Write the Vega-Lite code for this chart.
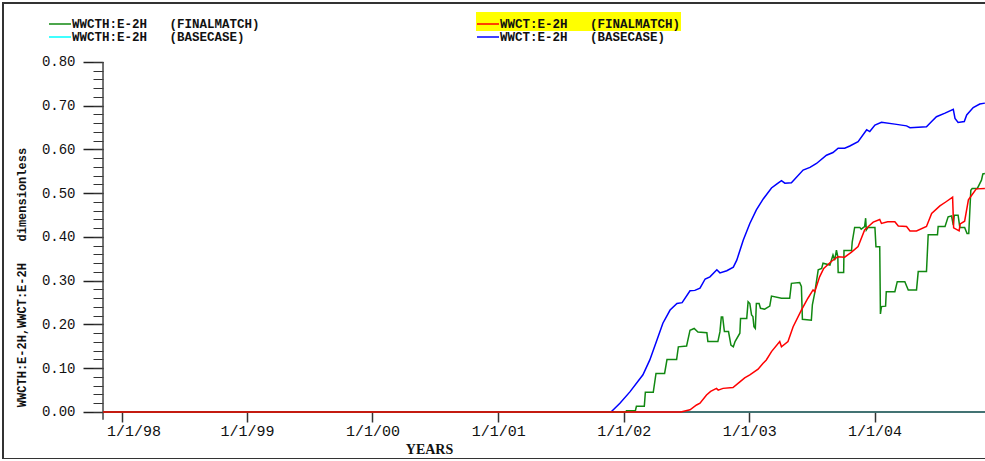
{
  "$schema": "https://vega.github.io/schema/vega-lite/v6.json",
  "autosize": "none",
  "width": 985,
  "height": 456,
  "padding": {"left": 3, "top": 3, "right": 0, "bottom": 0},
  "background": "white",
  "datasets": {
    "rows": [
      {"series": "WWCTH:E-2H (BASECASE)", "date": "1997-11-08", "value": 0},
      {"series": "WWCTH:E-2H (BASECASE)", "date": "2004-11-17", "value": 0},

      {"series": "WWCT:E-2H (BASECASE)", "date": "1997-11-08", "value": 0},
      {"series": "WWCT:E-2H (BASECASE)", "date": "2001-11-25", "value": 0},
      {"series": "WWCT:E-2H (BASECASE)", "date": "2001-12-21", "value": 0.020},
      {"series": "WWCT:E-2H (BASECASE)", "date": "2002-01-19", "value": 0.046},
      {"series": "WWCT:E-2H (BASECASE)", "date": "2002-02-26", "value": 0.085},
      {"series": "WWCT:E-2H (BASECASE)", "date": "2002-03-18", "value": 0.119},
      {"series": "WWCT:E-2H (BASECASE)", "date": "2002-04-08", "value": 0.165},
      {"series": "WWCT:E-2H (BASECASE)", "date": "2002-04-25", "value": 0.203},
      {"series": "WWCT:E-2H (BASECASE)", "date": "2002-05-16", "value": 0.233},
      {"series": "WWCT:E-2H (BASECASE)", "date": "2002-06-05", "value": 0.248},
      {"series": "WWCT:E-2H (BASECASE)", "date": "2002-06-20", "value": 0.250},
      {"series": "WWCT:E-2H (BASECASE)", "date": "2002-07-13", "value": 0.277},
      {"series": "WWCT:E-2H (BASECASE)", "date": "2002-07-27", "value": 0.278},
      {"series": "WWCT:E-2H (BASECASE)", "date": "2002-08-11", "value": 0.283},
      {"series": "WWCT:E-2H (BASECASE)", "date": "2002-08-26", "value": 0.304},
      {"series": "WWCT:E-2H (BASECASE)", "date": "2002-09-09", "value": 0.309},
      {"series": "WWCT:E-2H (BASECASE)", "date": "2002-09-29", "value": 0.325},
      {"series": "WWCT:E-2H (BASECASE)", "date": "2002-10-08", "value": 0.318},
      {"series": "WWCT:E-2H (BASECASE)", "date": "2002-10-28", "value": 0.323},
      {"series": "WWCT:E-2H (BASECASE)", "date": "2002-11-16", "value": 0.331},
      {"series": "WWCT:E-2H (BASECASE)", "date": "2002-11-26", "value": 0.347},
      {"series": "WWCT:E-2H (BASECASE)", "date": "2002-12-15", "value": 0.393},
      {"series": "WWCT:E-2H (BASECASE)", "date": "2003-01-03", "value": 0.431},
      {"series": "WWCT:E-2H (BASECASE)", "date": "2003-01-22", "value": 0.462},
      {"series": "WWCT:E-2H (BASECASE)", "date": "2003-02-11", "value": 0.487},
      {"series": "WWCT:E-2H (BASECASE)", "date": "2003-03-07", "value": 0.512},
      {"series": "WWCT:E-2H (BASECASE)", "date": "2003-03-22", "value": 0.521},
      {"series": "WWCT:E-2H (BASECASE)", "date": "2003-04-05", "value": 0.529},
      {"series": "WWCT:E-2H (BASECASE)", "date": "2003-04-15", "value": 0.523},
      {"series": "WWCT:E-2H (BASECASE)", "date": "2003-05-04", "value": 0.524},
      {"series": "WWCT:E-2H (BASECASE)", "date": "2003-06-07", "value": 0.553},
      {"series": "WWCT:E-2H (BASECASE)", "date": "2003-06-27", "value": 0.559},
      {"series": "WWCT:E-2H (BASECASE)", "date": "2003-07-16", "value": 0.568},
      {"series": "WWCT:E-2H (BASECASE)", "date": "2003-08-14", "value": 0.587},
      {"series": "WWCT:E-2H (BASECASE)", "date": "2003-09-02", "value": 0.593},
      {"series": "WWCT:E-2H (BASECASE)", "date": "2003-09-17", "value": 0.603},
      {"series": "WWCT:E-2H (BASECASE)", "date": "2003-10-06", "value": 0.603},
      {"series": "WWCT:E-2H (BASECASE)", "date": "2003-10-21", "value": 0.608},
      {"series": "WWCT:E-2H (BASECASE)", "date": "2003-11-14", "value": 0.618},
      {"series": "WWCT:E-2H (BASECASE)", "date": "2003-12-09", "value": 0.645},
      {"series": "WWCT:E-2H (BASECASE)", "date": "2003-12-18", "value": 0.641},
      {"series": "WWCT:E-2H (BASECASE)", "date": "2004-01-02", "value": 0.656},
      {"series": "WWCT:E-2H (BASECASE)", "date": "2004-01-21", "value": 0.662},
      {"series": "WWCT:E-2H (BASECASE)", "date": "2004-02-29", "value": 0.658},
      {"series": "WWCT:E-2H (BASECASE)", "date": "2004-04-03", "value": 0.654},
      {"series": "WWCT:E-2H (BASECASE)", "date": "2004-04-13", "value": 0.650},
      {"series": "WWCT:E-2H (BASECASE)", "date": "2004-05-31", "value": 0.652},
      {"series": "WWCT:E-2H (BASECASE)", "date": "2004-06-15", "value": 0.664},
      {"series": "WWCT:E-2H (BASECASE)", "date": "2004-06-29", "value": 0.675},
      {"series": "WWCT:E-2H (BASECASE)", "date": "2004-07-24", "value": 0.683},
      {"series": "WWCT:E-2H (BASECASE)", "date": "2004-08-17", "value": 0.692},
      {"series": "WWCT:E-2H (BASECASE)", "date": "2004-08-22", "value": 0.671},
      {"series": "WWCT:E-2H (BASECASE)", "date": "2004-08-31", "value": 0.662},
      {"series": "WWCT:E-2H (BASECASE)", "date": "2004-09-18", "value": 0.664},
      {"series": "WWCT:E-2H (BASECASE)", "date": "2004-09-25", "value": 0.679},
      {"series": "WWCT:E-2H (BASECASE)", "date": "2004-10-14", "value": 0.696},
      {"series": "WWCT:E-2H (BASECASE)", "date": "2004-11-02", "value": 0.704},
      {"series": "WWCT:E-2H (BASECASE)", "date": "2004-11-17", "value": 0.706},

      {"series": "WWCTH:E-2H (FINALMATCH)", "date": "1997-11-08", "value": 0},
      {"series": "WWCTH:E-2H (FINALMATCH)", "date": "2002-01-08", "value": 0},
      {"series": "WWCTH:E-2H (FINALMATCH)", "date": "2002-01-09", "value": 0.003},
      {"series": "WWCTH:E-2H (FINALMATCH)", "date": "2002-02-04", "value": 0.003},
      {"series": "WWCTH:E-2H (FINALMATCH)", "date": "2002-02-07", "value": 0.013},
      {"series": "WWCTH:E-2H (FINALMATCH)", "date": "2002-03-02", "value": 0.013},
      {"series": "WWCTH:E-2H (FINALMATCH)", "date": "2002-03-05", "value": 0.045},
      {"series": "WWCTH:E-2H (FINALMATCH)", "date": "2002-03-28", "value": 0.045},
      {"series": "WWCTH:E-2H (FINALMATCH)", "date": "2002-04-05", "value": 0.088},
      {"series": "WWCTH:E-2H (FINALMATCH)", "date": "2002-04-30", "value": 0.088},
      {"series": "WWCTH:E-2H (FINALMATCH)", "date": "2002-05-07", "value": 0.120},
      {"series": "WWCTH:E-2H (FINALMATCH)", "date": "2002-06-04", "value": 0.120},
      {"series": "WWCTH:E-2H (FINALMATCH)", "date": "2002-06-09", "value": 0.149},
      {"series": "WWCTH:E-2H (FINALMATCH)", "date": "2002-07-03", "value": 0.151},
      {"series": "WWCTH:E-2H (FINALMATCH)", "date": "2002-07-13", "value": 0.187},
      {"series": "WWCTH:E-2H (FINALMATCH)", "date": "2002-07-25", "value": 0.191},
      {"series": "WWCTH:E-2H (FINALMATCH)", "date": "2002-08-05", "value": 0.183},
      {"series": "WWCTH:E-2H (FINALMATCH)", "date": "2002-08-31", "value": 0.181},
      {"series": "WWCTH:E-2H (FINALMATCH)", "date": "2002-09-03", "value": 0.161},
      {"series": "WWCTH:E-2H (FINALMATCH)", "date": "2002-10-02", "value": 0.161},
      {"series": "WWCTH:E-2H (FINALMATCH)", "date": "2002-10-08", "value": 0.183},
      {"series": "WWCTH:E-2H (FINALMATCH)", "date": "2002-10-12", "value": 0.217},
      {"series": "WWCTH:E-2H (FINALMATCH)", "date": "2002-10-16", "value": 0.217},
      {"series": "WWCTH:E-2H (FINALMATCH)", "date": "2002-10-21", "value": 0.184},
      {"series": "WWCTH:E-2H (FINALMATCH)", "date": "2002-11-02", "value": 0.184},
      {"series": "WWCTH:E-2H (FINALMATCH)", "date": "2002-11-09", "value": 0.153},
      {"series": "WWCTH:E-2H (FINALMATCH)", "date": "2002-11-16", "value": 0.149},
      {"series": "WWCTH:E-2H (FINALMATCH)", "date": "2002-11-21", "value": 0.161},
      {"series": "WWCTH:E-2H (FINALMATCH)", "date": "2002-12-05", "value": 0.180},
      {"series": "WWCTH:E-2H (FINALMATCH)", "date": "2002-12-07", "value": 0.214},
      {"series": "WWCTH:E-2H (FINALMATCH)", "date": "2002-12-25", "value": 0.214},
      {"series": "WWCTH:E-2H (FINALMATCH)", "date": "2002-12-29", "value": 0.252},
      {"series": "WWCTH:E-2H (FINALMATCH)", "date": "2003-01-03", "value": 0.248},
      {"series": "WWCTH:E-2H (FINALMATCH)", "date": "2003-01-08", "value": 0.222},
      {"series": "WWCTH:E-2H (FINALMATCH)", "date": "2003-01-12", "value": 0.218},
      {"series": "WWCTH:E-2H (FINALMATCH)", "date": "2003-01-15", "value": 0.195},
      {"series": "WWCTH:E-2H (FINALMATCH)", "date": "2003-01-19", "value": 0.191},
      {"series": "WWCTH:E-2H (FINALMATCH)", "date": "2003-01-22", "value": 0.248},
      {"series": "WWCTH:E-2H (FINALMATCH)", "date": "2003-01-30", "value": 0.248},
      {"series": "WWCTH:E-2H (FINALMATCH)", "date": "2003-02-03", "value": 0.237},
      {"series": "WWCTH:E-2H (FINALMATCH)", "date": "2003-02-15", "value": 0.235},
      {"series": "WWCTH:E-2H (FINALMATCH)", "date": "2003-03-02", "value": 0.242},
      {"series": "WWCTH:E-2H (FINALMATCH)", "date": "2003-03-07", "value": 0.265},
      {"series": "WWCTH:E-2H (FINALMATCH)", "date": "2003-04-05", "value": 0.260},
      {"series": "WWCTH:E-2H (FINALMATCH)", "date": "2003-04-29", "value": 0.260},
      {"series": "WWCTH:E-2H (FINALMATCH)", "date": "2003-05-04", "value": 0.294},
      {"series": "WWCTH:E-2H (FINALMATCH)", "date": "2003-05-28", "value": 0.296},
      {"series": "WWCTH:E-2H (FINALMATCH)", "date": "2003-06-02", "value": 0.287},
      {"series": "WWCTH:E-2H (FINALMATCH)", "date": "2003-06-05", "value": 0.212},
      {"series": "WWCTH:E-2H (FINALMATCH)", "date": "2003-07-01", "value": 0.210},
      {"series": "WWCTH:E-2H (FINALMATCH)", "date": "2003-07-04", "value": 0.245},
      {"series": "WWCTH:E-2H (FINALMATCH)", "date": "2003-07-11", "value": 0.273},
      {"series": "WWCTH:E-2H (FINALMATCH)", "date": "2003-07-21", "value": 0.325},
      {"series": "WWCTH:E-2H (FINALMATCH)", "date": "2003-07-31", "value": 0.328},
      {"series": "WWCTH:E-2H (FINALMATCH)", "date": "2003-08-04", "value": 0.340},
      {"series": "WWCTH:E-2H (FINALMATCH)", "date": "2003-08-24", "value": 0.336},
      {"series": "WWCTH:E-2H (FINALMATCH)", "date": "2003-09-02", "value": 0.359},
      {"series": "WWCTH:E-2H (FINALMATCH)", "date": "2003-09-07", "value": 0.347},
      {"series": "WWCTH:E-2H (FINALMATCH)", "date": "2003-09-12", "value": 0.370},
      {"series": "WWCTH:E-2H (FINALMATCH)", "date": "2003-09-16", "value": 0.355},
      {"series": "WWCTH:E-2H (FINALMATCH)", "date": "2003-09-17", "value": 0.319},
      {"series": "WWCTH:E-2H (FINALMATCH)", "date": "2003-10-03", "value": 0.319},
      {"series": "WWCTH:E-2H (FINALMATCH)", "date": "2003-10-04", "value": 0.369},
      {"series": "WWCTH:E-2H (FINALMATCH)", "date": "2003-10-26", "value": 0.369},
      {"series": "WWCTH:E-2H (FINALMATCH)", "date": "2003-10-28", "value": 0.389},
      {"series": "WWCTH:E-2H (FINALMATCH)", "date": "2003-11-04", "value": 0.422},
      {"series": "WWCTH:E-2H (FINALMATCH)", "date": "2003-11-19", "value": 0.422},
      {"series": "WWCTH:E-2H (FINALMATCH)", "date": "2003-11-23", "value": 0.418},
      {"series": "WWCTH:E-2H (FINALMATCH)", "date": "2003-12-03", "value": 0.424},
      {"series": "WWCTH:E-2H (FINALMATCH)", "date": "2003-12-06", "value": 0.443},
      {"series": "WWCTH:E-2H (FINALMATCH)", "date": "2003-12-08", "value": 0.416},
      {"series": "WWCTH:E-2H (FINALMATCH)", "date": "2003-12-13", "value": 0.422},
      {"series": "WWCTH:E-2H (FINALMATCH)", "date": "2004-01-02", "value": 0.422},
      {"series": "WWCTH:E-2H (FINALMATCH)", "date": "2004-01-05", "value": 0.378},
      {"series": "WWCTH:E-2H (FINALMATCH)", "date": "2004-01-16", "value": 0.378},
      {"series": "WWCTH:E-2H (FINALMATCH)", "date": "2004-01-18", "value": 0.224},
      {"series": "WWCTH:E-2H (FINALMATCH)", "date": "2004-01-21", "value": 0.241},
      {"series": "WWCTH:E-2H (FINALMATCH)", "date": "2004-02-02", "value": 0.242},
      {"series": "WWCTH:E-2H (FINALMATCH)", "date": "2004-02-04", "value": 0.275},
      {"series": "WWCTH:E-2H (FINALMATCH)", "date": "2004-02-29", "value": 0.275},
      {"series": "WWCTH:E-2H (FINALMATCH)", "date": "2004-03-07", "value": 0.298},
      {"series": "WWCTH:E-2H (FINALMATCH)", "date": "2004-03-29", "value": 0.298},
      {"series": "WWCTH:E-2H (FINALMATCH)", "date": "2004-04-08", "value": 0.279},
      {"series": "WWCTH:E-2H (FINALMATCH)", "date": "2004-05-02", "value": 0.279},
      {"series": "WWCTH:E-2H (FINALMATCH)", "date": "2004-05-07", "value": 0.321},
      {"series": "WWCTH:E-2H (FINALMATCH)", "date": "2004-05-31", "value": 0.321},
      {"series": "WWCTH:E-2H (FINALMATCH)", "date": "2004-06-05", "value": 0.405},
      {"series": "WWCTH:E-2H (FINALMATCH)", "date": "2004-07-02", "value": 0.405},
      {"series": "WWCTH:E-2H (FINALMATCH)", "date": "2004-07-04", "value": 0.424},
      {"series": "WWCTH:E-2H (FINALMATCH)", "date": "2004-07-24", "value": 0.424},
      {"series": "WWCTH:E-2H (FINALMATCH)", "date": "2004-08-02", "value": 0.446},
      {"series": "WWCTH:E-2H (FINALMATCH)", "date": "2004-08-12", "value": 0.448},
      {"series": "WWCTH:E-2H (FINALMATCH)", "date": "2004-08-17", "value": 0.427},
      {"series": "WWCTH:E-2H (FINALMATCH)", "date": "2004-08-20", "value": 0.450},
      {"series": "WWCTH:E-2H (FINALMATCH)", "date": "2004-08-31", "value": 0.450},
      {"series": "WWCTH:E-2H (FINALMATCH)", "date": "2004-09-05", "value": 0.422},
      {"series": "WWCTH:E-2H (FINALMATCH)", "date": "2004-09-19", "value": 0.422},
      {"series": "WWCTH:E-2H (FINALMATCH)", "date": "2004-09-26", "value": 0.408},
      {"series": "WWCTH:E-2H (FINALMATCH)", "date": "2004-10-01", "value": 0.408},
      {"series": "WWCTH:E-2H (FINALMATCH)", "date": "2004-10-07", "value": 0.507},
      {"series": "WWCTH:E-2H (FINALMATCH)", "date": "2004-10-11", "value": 0.511},
      {"series": "WWCTH:E-2H (FINALMATCH)", "date": "2004-10-26", "value": 0.511},
      {"series": "WWCTH:E-2H (FINALMATCH)", "date": "2004-11-07", "value": 0.530},
      {"series": "WWCTH:E-2H (FINALMATCH)", "date": "2004-11-11", "value": 0.544},
      {"series": "WWCTH:E-2H (FINALMATCH)", "date": "2004-11-17", "value": 0.545},

      {"series": "WWCT:E-2H (FINALMATCH)", "date": "1997-11-08", "value": 0},
      {"series": "WWCT:E-2H (FINALMATCH)", "date": "2002-06-16", "value": 0},
      {"series": "WWCT:E-2H (FINALMATCH)", "date": "2002-07-13", "value": 0.005},
      {"series": "WWCT:E-2H (FINALMATCH)", "date": "2002-08-01", "value": 0.016},
      {"series": "WWCT:E-2H (FINALMATCH)", "date": "2002-08-11", "value": 0.020},
      {"series": "WWCT:E-2H (FINALMATCH)", "date": "2002-08-30", "value": 0.039},
      {"series": "WWCT:E-2H (FINALMATCH)", "date": "2002-09-11", "value": 0.047},
      {"series": "WWCT:E-2H (FINALMATCH)", "date": "2002-09-28", "value": 0.054},
      {"series": "WWCT:E-2H (FINALMATCH)", "date": "2002-10-03", "value": 0.050},
      {"series": "WWCT:E-2H (FINALMATCH)", "date": "2002-10-17", "value": 0.054},
      {"series": "WWCT:E-2H (FINALMATCH)", "date": "2002-11-15", "value": 0.056},
      {"series": "WWCT:E-2H (FINALMATCH)", "date": "2002-12-05", "value": 0.069},
      {"series": "WWCT:E-2H (FINALMATCH)", "date": "2002-12-19", "value": 0.078},
      {"series": "WWCT:E-2H (FINALMATCH)", "date": "2003-01-03", "value": 0.085},
      {"series": "WWCT:E-2H (FINALMATCH)", "date": "2003-01-27", "value": 0.098},
      {"series": "WWCT:E-2H (FINALMATCH)", "date": "2003-02-10", "value": 0.111},
      {"series": "WWCT:E-2H (FINALMATCH)", "date": "2003-02-20", "value": 0.119},
      {"series": "WWCT:E-2H (FINALMATCH)", "date": "2003-03-07", "value": 0.138},
      {"series": "WWCT:E-2H (FINALMATCH)", "date": "2003-03-31", "value": 0.161},
      {"series": "WWCT:E-2H (FINALMATCH)", "date": "2003-04-05", "value": 0.149},
      {"series": "WWCT:E-2H (FINALMATCH)", "date": "2003-04-24", "value": 0.161},
      {"series": "WWCT:E-2H (FINALMATCH)", "date": "2003-05-09", "value": 0.195},
      {"series": "WWCT:E-2H (FINALMATCH)", "date": "2003-06-02", "value": 0.233},
      {"series": "WWCT:E-2H (FINALMATCH)", "date": "2003-06-21", "value": 0.260},
      {"series": "WWCT:E-2H (FINALMATCH)", "date": "2003-07-06", "value": 0.279},
      {"series": "WWCT:E-2H (FINALMATCH)", "date": "2003-07-11", "value": 0.275},
      {"series": "WWCT:E-2H (FINALMATCH)", "date": "2003-07-25", "value": 0.309},
      {"series": "WWCT:E-2H (FINALMATCH)", "date": "2003-08-06", "value": 0.328},
      {"series": "WWCT:E-2H (FINALMATCH)", "date": "2003-08-28", "value": 0.344},
      {"series": "WWCT:E-2H (FINALMATCH)", "date": "2003-09-16", "value": 0.355},
      {"series": "WWCT:E-2H (FINALMATCH)", "date": "2003-10-06", "value": 0.354},
      {"series": "WWCT:E-2H (FINALMATCH)", "date": "2003-10-25", "value": 0.365},
      {"series": "WWCT:E-2H (FINALMATCH)", "date": "2003-11-14", "value": 0.378},
      {"series": "WWCT:E-2H (FINALMATCH)", "date": "2003-12-03", "value": 0.416},
      {"series": "WWCT:E-2H (FINALMATCH)", "date": "2003-12-18", "value": 0.427},
      {"series": "WWCT:E-2H (FINALMATCH)", "date": "2003-12-28", "value": 0.434},
      {"series": "WWCT:E-2H (FINALMATCH)", "date": "2004-01-16", "value": 0.440},
      {"series": "WWCT:E-2H (FINALMATCH)", "date": "2004-01-21", "value": 0.431},
      {"series": "WWCT:E-2H (FINALMATCH)", "date": "2004-02-08", "value": 0.435},
      {"series": "WWCT:E-2H (FINALMATCH)", "date": "2004-02-29", "value": 0.435},
      {"series": "WWCT:E-2H (FINALMATCH)", "date": "2004-03-10", "value": 0.425},
      {"series": "WWCT:E-2H (FINALMATCH)", "date": "2004-04-03", "value": 0.424},
      {"series": "WWCT:E-2H (FINALMATCH)", "date": "2004-04-13", "value": 0.414},
      {"series": "WWCT:E-2H (FINALMATCH)", "date": "2004-05-02", "value": 0.414},
      {"series": "WWCT:E-2H (FINALMATCH)", "date": "2004-05-31", "value": 0.424},
      {"series": "WWCT:E-2H (FINALMATCH)", "date": "2004-06-15", "value": 0.454},
      {"series": "WWCT:E-2H (FINALMATCH)", "date": "2004-07-09", "value": 0.471},
      {"series": "WWCT:E-2H (FINALMATCH)", "date": "2004-07-26", "value": 0.480},
      {"series": "WWCT:E-2H (FINALMATCH)", "date": "2004-08-15", "value": 0.491},
      {"series": "WWCT:E-2H (FINALMATCH)", "date": "2004-08-18", "value": 0.421},
      {"series": "WWCT:E-2H (FINALMATCH)", "date": "2004-09-03", "value": 0.414},
      {"series": "WWCT:E-2H (FINALMATCH)", "date": "2004-09-06", "value": 0.430},
      {"series": "WWCT:E-2H (FINALMATCH)", "date": "2004-09-19", "value": 0.436},
      {"series": "WWCT:E-2H (FINALMATCH)", "date": "2004-09-30", "value": 0.485},
      {"series": "WWCT:E-2H (FINALMATCH)", "date": "2004-10-10", "value": 0.496},
      {"series": "WWCT:E-2H (FINALMATCH)", "date": "2004-10-23", "value": 0.510},
      {"series": "WWCT:E-2H (FINALMATCH)", "date": "2004-11-17", "value": 0.511}
    ],
    "axislines": [
      {"line": "y", "start": "1997-11-08", "end": "1997-11-08", "low": -0.018, "high": 0.8},
      {"line": "x", "start": "1997-11-08", "end": "2004-11-26", "low": 0, "high": 0}
    ]
  },
  "data": {"name": "rows"},
  "encoding": {
    "x": {
      "field": "date",
      "type": "temporal",
      "scale": {
        "type": "utc",
        "domain": [
          {"year": 1997, "month": 1, "date": 21, "utc": true},
          {"year": 2004, "month": 11, "date": 26, "utc": true}
        ]
      },
      "axis": null
    },
    "y": {
      "field": "value",
      "type": "quantitative",
      "scale": {"domain": [-0.107429, 0.934857], "nice": false, "zero": false},
      "axis": null
    }
  },
  "layer": [
    {
      "transform": [{"filter": "datum.series === 'WWCTH:E-2H (BASECASE)'"}],
      "mark": {"type": "line", "strokeWidth": 1.5, "clip": true},
      "encoding": {
        "x": {
          "field": "date",
          "type": "temporal",
          "axis": {
            "values": [
              {"year": 1998, "month": 1, "date": 1, "utc": true},
              {"year": 1999, "month": 1, "date": 1, "utc": true},
              {"year": 2000, "month": 1, "date": 1, "utc": true},
              {"year": 2001, "month": 1, "date": 1, "utc": true},
              {"year": 2002, "month": 1, "date": 1, "utc": true},
              {"year": 2003, "month": 1, "date": 1, "utc": true},
              {"year": 2004, "month": 1, "date": 1, "utc": true}
            ],
            "format": "%-m/%-d/%y",
            "offset": -47,
            "grid": false,
            "domain": false,
            "tickColor": "#333333",
            "tickWidth": 1.5,
            "tickSize": 10,
            "labelFont": "Liberation Mono",
            "labelFontSize": 15,
            "labelColor": "#111111",
            "labelPadding": 1,
            "labelOffset": {"condition": {"test": "utcyear(datum.value) === 1998", "value": 12}, "value": 0},
            "title": "YEARS",
            "titleFont": "Liberation Serif",
            "titleFontWeight": "bold",
            "titleFontSize": 14,
            "titleColor": "#111111",
            "titleX": 426,
            "titleY": 41,
            "titleAlign": "center",
            "titleBaseline": "alphabetic"
          }
        },
        "y": {
          "field": "value",
          "type": "quantitative",
          "axis": {
            "orient": "left",
            "offset": -100,
            "values": [0, 0.1, 0.2, 0.3, 0.4, 0.5, 0.6, 0.7, 0.8],
            "format": ".2f",
            "grid": false,
            "domain": false,
            "tickColor": "#222222",
            "tickWidth": 1.5,
            "tickSize": 20,
            "labelFont": "Liberation Mono",
            "labelFontSize": 14,
            "labelColor": "#111111",
            "labelPadding": 8,
            "title": "WWCTH:E-2H,WWCT:E-2H\u00a0\u00a0\u00a0dimensionless",
            "titleFont": "Liberation Mono",
            "titleFontWeight": "bold",
            "titleFontSize": 12,
            "titleColor": "#111111",
            "titleAngle": 270,
            "titleX": -81.5,
            "titleY": 274,
            "titleAlign": "center",
            "titleBaseline": "middle"
          }
        },
        "color": {
          "field": "series",
          "type": "nominal",
          "scale": {"domain": ["WWCTH:E-2H (BASECASE)"], "range": ["#00ffff"]},
          "legend": {"legendX": 45, "legendY": 22, "labelExpr": "replace(datum.label, ' ', '\u00a0\u00a0\u00a0')"}
        }
      }
    },
    {
      "data": {"name": "axislines"},
      "mark": {"type": "rule", "color": "#444444", "strokeWidth": 1.5},
      "encoding": {
        "x": {"field": "start", "type": "temporal", "axis": null},
        "x2": {"field": "end"},
        "y": {"field": "low", "type": "quantitative", "axis": null},
        "y2": {"field": "high"}
      }
    },
    {
      "transform": [{"filter": "datum.series === 'WWCT:E-2H (BASECASE)'"}],
      "mark": {"type": "line", "strokeWidth": 1.5, "clip": true},
      "encoding": {
        "y": {
          "field": "value",
          "type": "quantitative",
          "axis": {
            "orient": "left",
            "offset": -100,
            "values": [0, 0.02, 0.04, 0.06, 0.08, 0.1, 0.12, 0.14, 0.16, 0.18, 0.2, 0.22, 0.24, 0.26, 0.28, 0.3, 0.32, 0.34, 0.36, 0.38, 0.4, 0.42, 0.44, 0.46, 0.48, 0.5, 0.52, 0.54, 0.56, 0.58, 0.6, 0.62, 0.64, 0.66, 0.68, 0.7, 0.72, 0.74, 0.76, 0.78, 0.8],
            "grid": false,
            "domain": false,
            "labels": false,
            "title": null,
            "tickColor": "#333333",
            "tickWidth": 1,
            "tickSize": 10
          }
        },
        "color": {
          "field": "series",
          "type": "nominal",
          "scale": {"domain": ["WWCT:E-2H (BASECASE)"], "range": ["#0000ff"]},
          "legend": {"legendX": 473, "legendY": 22, "labelExpr": "replace(datum.label, ' ', '\u00a0\u00a0\u00a0')"}
        }
      }
    },
    {
      "transform": [{"filter": "datum.series === 'WWCTH:E-2H (FINALMATCH)'"}],
      "mark": {"type": "line", "strokeWidth": 1.5, "clip": true},
      "encoding": {
        "color": {
          "field": "series",
          "type": "nominal",
          "scale": {"domain": ["WWCTH:E-2H (FINALMATCH)"], "range": ["#118811"]},
          "legend": {"legendX": 45, "legendY": 9, "labelExpr": "replace(datum.label, ' ', '\u00a0\u00a0\u00a0')"}
        }
      }
    },
    {
      "transform": [{"filter": "datum.series === 'WWCT:E-2H (FINALMATCH)'"}],
      "mark": {"type": "line", "strokeWidth": 1.5, "clip": true},
      "encoding": {
        "color": {
          "field": "series",
          "type": "nominal",
          "scale": {"domain": ["WWCT:E-2H (FINALMATCH)"], "range": ["#ff0000"]},
          "legend": {"legendX": 473, "legendY": 9, "fillColor": "#ffff00", "labelExpr": "replace(datum.label, ' ', '\u00a0\u00a0\u00a0')"}
        }
      }
    }
  ],
  "resolve": {
    "scale": {"color": "independent"},
    "axis": {"x": "independent", "y": "independent"}
  },
  "config": {
    "view": {"stroke": "#333333", "strokeWidth": 2},
    "legend": {
      "orient": "none",
      "title": null,
      "padding": 0,
      "symbolType": "stroke",
      "symbolSize": 484,
      "symbolStrokeWidth": 1.5,
      "labelOffset": 0,
      "labelFont": "Liberation Mono",
      "labelFontSize": 12.5,
      "labelFontWeight": "bold",
      "labelColor": "#111111",
      "labelLimit": 0
    }
  }
}
